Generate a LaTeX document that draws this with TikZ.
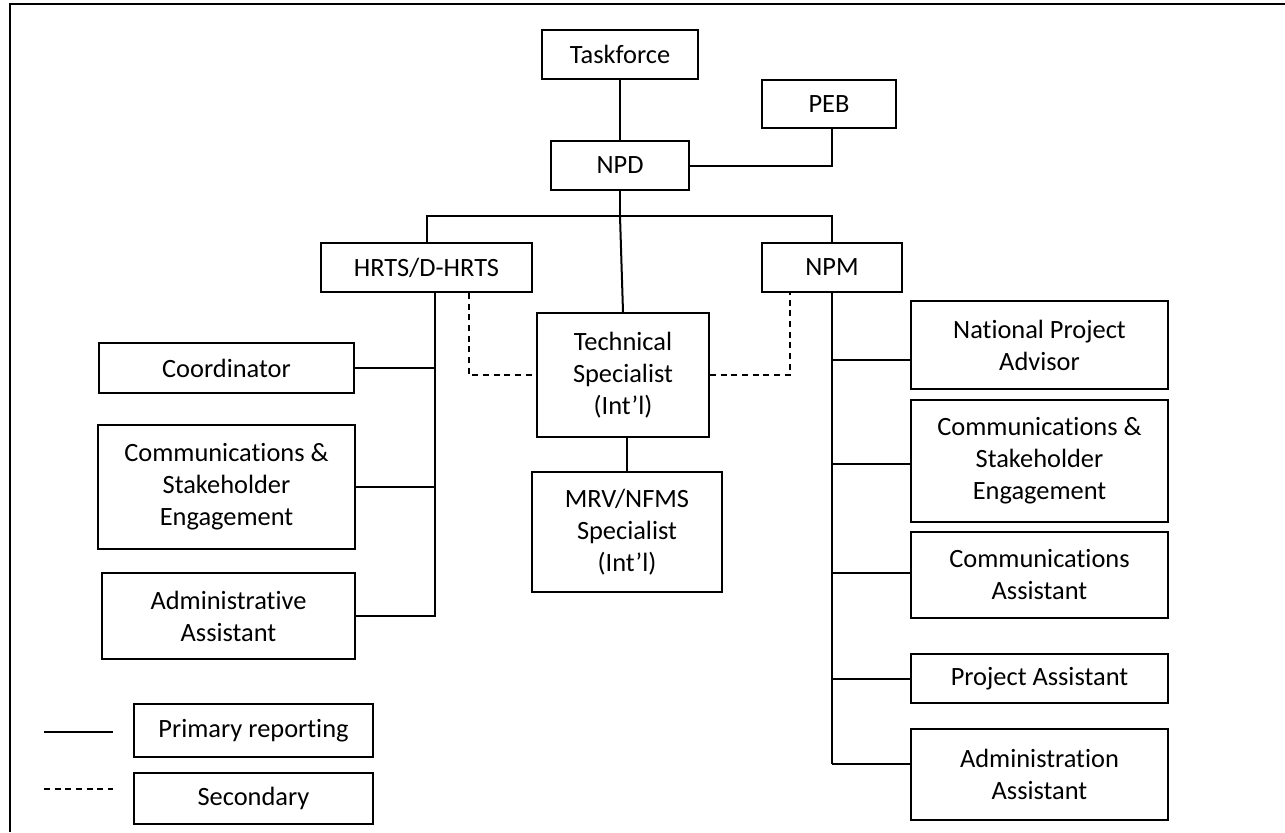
\documentclass[tikz,border=0pt]{standalone}
\usepackage{fontspec}
\setmainfont{Carlito}[Ligatures={NoCommon,NoContextual}]
\begin{document}
\begin{tikzpicture}[x=0.75pt,y=-0.75pt,
  box/.style={draw,line width=1.5pt,inner sep=0pt,align=center,
    font=\fontsize{19.8}{24}\selectfont},
  conn/.style={line width=1.5pt},
  sec/.style={line width=1.5pt,dash pattern=on 4.5pt off 3.5pt},
  frameline/.style={line width=1.9pt}]
\useasboundingbox (0,0) rectangle (1285,832);
\newcommand{\boxat}[6]{\node[box,minimum width={(#4-#2)*0.75pt},minimum height={(#5-#3)*0.75pt}] (#1) at ({(#2+#4)/2},{(#3+#5)/2}) {#6};}
% frame
\coordinate (fa) at (9,4);
\coordinate (fb) at (1285,4);
\coordinate (fc) at (10,3);
\coordinate (fd) at (10,832);
\draw[frameline] (fa) -- (fb);
\draw[frameline] (fc) -- (fd);
% boxes
\boxat{task}{542}{30}{698}{79}{Taskforce}
\boxat{peb}{762}{80}{896}{128}{PEB}
\boxat{npd}{551}{141}{689}{190}{NPD}
\boxat{hrts}{321}{243}{532}{292}{HRTS/D-HRTS}
\boxat{npm}{762}{243}{902}{292}{NPM}
\boxat{ts}{537}{313}{709}{437}{Technical\\Specialist\\(Int’l)}
\boxat{mrv}{532}{472}{722}{592}{MRV/NFMS\\Specialist\\(Int’l)}
\boxat{coord}{99}{343}{354}{393}{Coordinator}
\boxat{csel}{98}{425}{355}{549}{Communications \&\\Stakeholder\\Engagement}
\boxat{adml}{102}{573}{355}{659}{Administrative\\Assistant}
\boxat{npa}{911}{301}{1168}{389}{National Project\\Advisor}
\boxat{cser}{911}{400}{1168}{522}{Communications \&\\Stakeholder\\Engagement}
\boxat{comma}{911}{532}{1168}{618}{Communications\\Assistant}
\boxat{proja}{911}{654}{1168}{703}{Project Assistant}
\boxat{admr}{911}{729}{1168}{820}{Administration\\Assistant}
\boxat{lprim}{134}{704}{373}{757}{Primary reporting}
\boxat{lsec}{134}{773}{373}{824}{Secondary}
% top connectors
\draw[conn] (task) -- (npd);
\coordinate (pebx) at (832,0);
\draw[conn] (npd.east) -| (peb.south -| pebx);
\coordinate (bar) at (620,216);
\draw[conn] (npd.south) -- (bar);
\draw[conn] (hrts.north) |- (bar) -| (npm.north);
\draw[conn] (bar) -- (ts.north);
\draw[conn] (ts.south -| mrv.north) -- (mrv.north);
% left trunk
\coordinate (lx) at (435,0);
\coordinate (lbot) at (435,617);
\draw[conn] (hrts.south -| lx) -- (lbot);
\draw[conn] (coord.east) -- (coord.east -| lx);
\draw[conn] (csel.east) -- (csel.east -| lx);
\draw[conn] (adml.east) -- (adml.east -| lx);
% right trunk
\coordinate (rbot) at (832,764);
\draw[conn] (npm.south) -- (rbot);
\coordinate (r1) at (832,360);
\coordinate (r2) at (832,464);
\coordinate (r3) at (832,573);
\coordinate (r4) at (832,679);
\draw[conn] (r1) -- (r1 -| npa.west);
\draw[conn] (r2) -- (r2 -| cser.west);
\draw[conn] (r3) -- (r3 -| comma.west);
\draw[conn] (r4) -- (r4 -| proja.west);
\draw[conn] (rbot) -- (rbot -| admr.west);
% secondary
\coordinate (d1) at (469,0);
\coordinate (d2) at (790,0);
\draw[sec] (hrts.south -| d1) |- (ts.west);
\draw[sec] (ts.east) -| (npm.south -| d2);
% legend lines
\coordinate (la) at (44,732);
\coordinate (lb) at (113,732);
\coordinate (lc) at (44,789);
\coordinate (ld) at (113,789);
\draw[conn] (la) -- (lb);
\draw[sec] (lc) -- (ld);
\end{tikzpicture}
\end{document}
